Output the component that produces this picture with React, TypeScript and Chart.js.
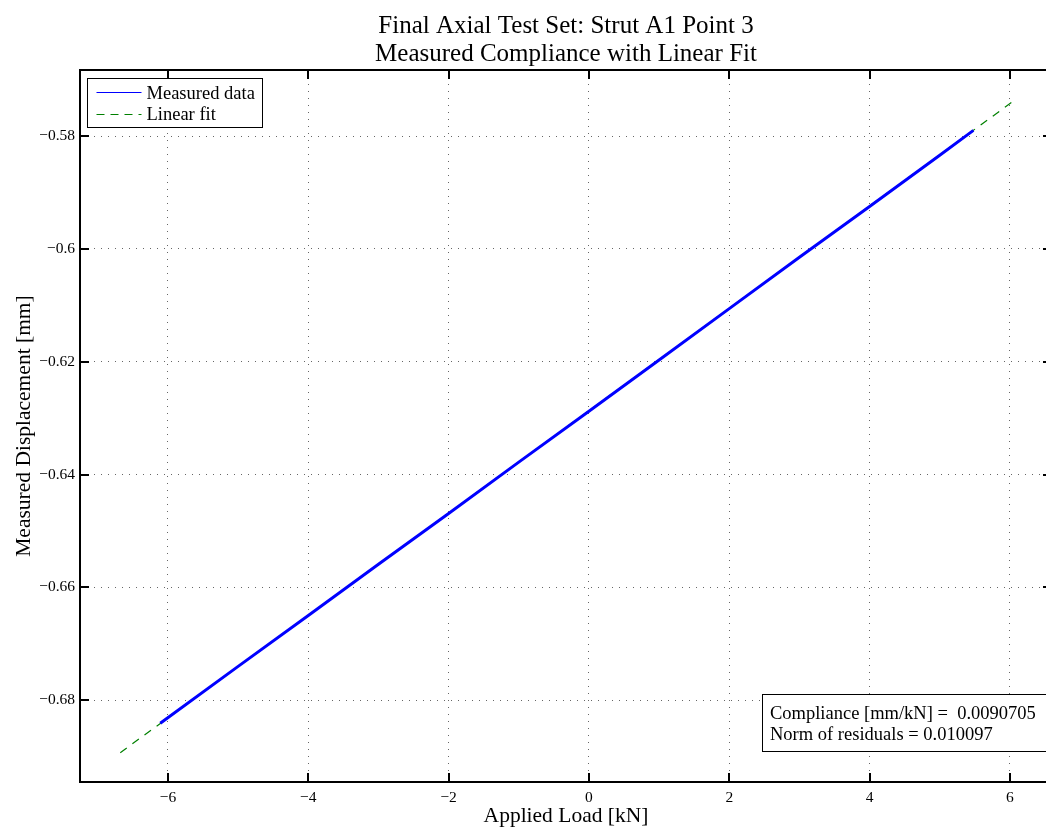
import React, { useEffect, useRef } from 'react';
import { Chart, registerables } from 'chart.js';

Chart.register(...registerables);

const titleLines = ['Final Axial Test Set: Strut A1 Point 3', 'Measured Compliance with Linear Fit'];
const xLabel = 'Applied Load [kN]';
const yLabel = 'Measured Displacement [mm]';
const seriesNames = ['Measured data', 'Linear fit'];
const annotationLines = ['Compliance [mm/kN] =  0.0090705', 'Norm of residuals = 0.010097'];

const measuredLoad = [-6.11, -5.0, -4.0, -3.0, -2.0, -1.0, 0.0, 1.0, 2.0, 3.0, 4.0, 5.0, 5.48];
const measuredDisp = [-0.6841, -0.6740, -0.6650, -0.6559, -0.6469, -0.6378, -0.6288, -0.6197, -0.6106, -0.6015, -0.5925, -0.5834, -0.5790];
const fitLoad = [-6.68, 6.04];
const fitDisp = [-0.6893, -0.5739];

const xTicks = [-6, -4, -2, 0, 2, 4, 6];
const yTicks = [-0.68, -0.66, -0.64, -0.62, -0.6, -0.58];
const xRange = [-7.254, 6.6];
const yRange = [-0.6945, -0.5683];

const FONT = '"Liberation Serif", "Times New Roman", serif';
const BLUE = 'rgb(0,0,255)';
const GREEN = 'rgb(0,128,0)';

const fmt = (v: number) => {
  const s = parseFloat(Math.abs(v).toFixed(4)).toString();
  return (v < -1e-9 ? '\u2212' : '') + s;
};

const decorPlugin = {
  id: 'matlabDecor',
  afterDraw(chart: any) {
    const { ctx, chartArea: ca, scales } = chart;
    ctx.save();
    // box
    ctx.strokeStyle = '#000';
    ctx.lineWidth = 2;
    ctx.setLineDash([]);
    ctx.strokeRect(ca.left, ca.top, ca.right - ca.left, ca.bottom - ca.top);
    // inward ticks
    const tl = 9;
    ctx.beginPath();
    for (const t of xTicks) {
      const x = Math.round(scales.x.getPixelForValue(t));
      ctx.moveTo(x, ca.bottom);
      ctx.lineTo(x, ca.bottom - tl);
      ctx.moveTo(x, ca.top);
      ctx.lineTo(x, ca.top + tl);
    }
    for (const t of yTicks) {
      const y = Math.round(scales.y.getPixelForValue(t));
      ctx.moveTo(ca.left, y);
      ctx.lineTo(ca.left + tl, y);
      ctx.moveTo(ca.right, y);
      ctx.lineTo(ca.right - tl, y);
    }
    ctx.stroke();

    // title
    const cx = (ca.left + ca.right) / 2;
    ctx.fillStyle = '#000';
    ctx.font = `25px ${FONT}`;
    ctx.textAlign = 'center';
    ctx.textBaseline = 'alphabetic';
    ctx.fillText(titleLines[0], cx, 33);
    ctx.fillText(titleLines[1], cx, 61);

    // legend
    const lx = ca.left + 7.5;
    const ly = ca.top + 8.5;
    const lw = 175;
    const lh = 49;
    ctx.fillStyle = '#fff';
    ctx.fillRect(lx, ly, lw, lh);
    ctx.strokeStyle = '#000';
    ctx.lineWidth = 1;
    ctx.strokeRect(lx, ly, lw, lh);
    const rows = [
      { color: BLUE, dash: [] as number[], label: seriesNames[0], y: ly + 13.5 },
      { color: GREEN, dash: [8, 6], label: seriesNames[1], y: ly + 35 },
    ];
    ctx.font = `18.5px ${FONT}`;
    ctx.textAlign = 'left';
    for (const r of rows) {
      ctx.strokeStyle = r.color;
      ctx.setLineDash(r.dash);
      ctx.beginPath();
      ctx.moveTo(lx + 9, Math.round(r.y) + 0.5);
      ctx.lineTo(lx + 54, Math.round(r.y) + 0.5);
      ctx.stroke();
      ctx.setLineDash([]);
      ctx.fillStyle = '#000';
      ctx.fillText(r.label, lx + 59, r.y + 6.5);
    }

    // annotation box
    const ax = ca.left + 682.5;
    const ay = ca.bottom - 87.5;
    const aw = ca.right - 3 - ax;
    const ah = 57;
    ctx.fillStyle = '#fff';
    ctx.fillRect(ax, ay, aw, ah);
    ctx.strokeStyle = '#000';
    ctx.lineWidth = 1;
    ctx.strokeRect(ax, ay, aw, ah);
    ctx.fillStyle = '#000';
    ctx.font = `18.5px ${FONT}`;
    ctx.fillText(annotationLines[0], ax + 7.5, ay + 24.5);
    ctx.fillText(annotationLines[1], ax + 7.5, ay + 45.5);
    ctx.restore();
  },
};

export default function App() {
  const ref = useRef<HTMLCanvasElement | null>(null);
  useEffect(() => {
    if (!ref.current) return;
    const chart = new Chart(ref.current, {
      type: 'scatter',
      data: {
        datasets: [
          {
            label: seriesNames[0],
            data: measuredLoad.map((x, i) => ({ x, y: measuredDisp[i] })),
            showLine: true,
            borderColor: BLUE,
            backgroundColor: BLUE,
            borderWidth: 3,
            pointRadius: 0,
            tension: 0,
          },
          {
            label: seriesNames[1],
            data: fitLoad.map((x, i) => ({ x, y: fitDisp[i] })),
            showLine: true,
            borderColor: GREEN,
            backgroundColor: GREEN,
            borderWidth: 1.2,
            borderDash: [8, 7],
            pointRadius: 0,
          },
        ],
      },
      options: {
        responsive: false,
        animation: false,
        devicePixelRatio: 1,
        layout: { padding: { top: 70, left: 0, right: 18, bottom: 0 } },
        plugins: {
          legend: { display: false },
          title: { display: false },
          tooltip: { enabled: false },
        },
        scales: {
          x: {
            type: 'linear',
            min: xRange[0],
            max: xRange[1],
            afterBuildTicks: (s: any) => {
              s.ticks = xTicks.map((v) => ({ value: v }));
            },
            afterFit: (s: any) => {
              s.height = 47;
            },
            ticks: {
              padding: 7,
              color: '#000',
              font: { family: FONT, size: 15.5 },
              callback: (v: any) => fmt(Number(v)),
              maxRotation: 0,
              autoSkip: false,
            },
            grid: { color: 'rgba(0,0,0,0.6)', drawTicks: false, lineWidth: 1 },
            border: { display: false, dash: [1, 6] },
            title: {
              display: true,
              text: xLabel,
              color: '#000',
              font: { family: FONT, size: 21.5 },
              padding: { top: 0, bottom: 0 },
            },
          },
          y: {
            type: 'linear',
            min: yRange[0],
            max: yRange[1],
            afterBuildTicks: (s: any) => {
              s.ticks = yTicks.map((v) => ({ value: v }));
            },
            afterFit: (s: any) => {
              s.width = 80;
            },
            ticks: {
              padding: 5,
              color: '#000',
              font: { family: FONT, size: 15.5 },
              callback: (v: any) => fmt(Number(v)),
              autoSkip: false,
            },
            grid: { color: 'rgba(0,0,0,0.6)', drawTicks: false, lineWidth: 1 },
            border: { display: false, dash: [1, 6] },
            title: {
              display: true,
              text: yLabel,
              color: '#000',
              font: { family: FONT, size: 21.5 },
              padding: { top: 11, bottom: 0 },
            },
          },
        },
      },
      plugins: [decorPlugin],
    } as any);
    return () => chart.destroy();
  }, []);

  return (
    <div
      style={{
        position: 'fixed',
        left: 0,
        top: 0,
        width: 1046,
        height: 829,
        overflow: 'hidden',
        background: '#fff',
      }}
    >
      <canvas ref={ref} width={1070} height={829} style={{ display: 'block', width: 1070, height: 829 }} />
    </div>
  );
}
